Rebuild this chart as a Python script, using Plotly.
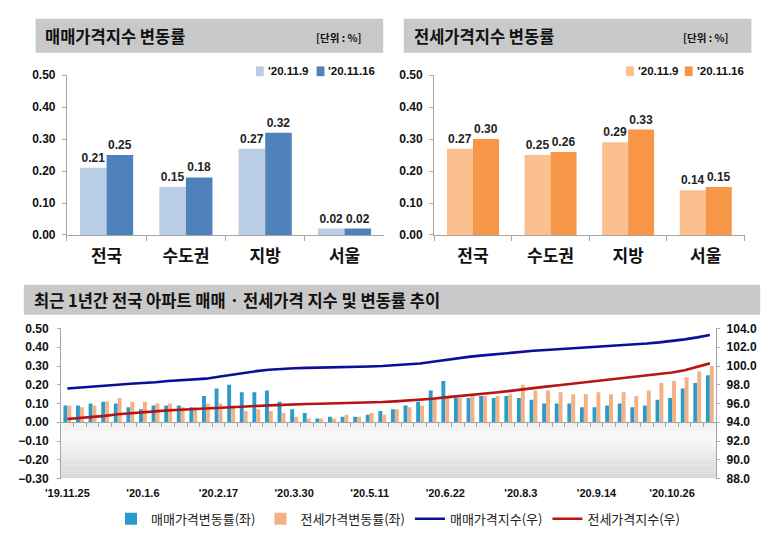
import plotly.graph_objects as go

# ---------------- data ----------------
regions = ["전국", "수도권", "지방", "서울"]
periods = ["'20.11.9", "'20.11.16"]
sale_prev = [0.21, 0.15, 0.27, 0.02]
sale_curr = [0.25, 0.18, 0.32, 0.02]
jeonse_prev = [0.27, 0.25, 0.29, 0.14]
jeonse_curr = [0.30, 0.26, 0.33, 0.15]

week_tick_pos = [0, 6, 12, 18, 24, 30, 36, 42, 48]
week_tick_text = ["'19.11.25", "'20.1.6", "'20.2.17", "'20.3.30", "'20.5.11",
                  "'20.6.22", "'20.8.3", "'20.9.14", "'20.10.26"]

sale_rate = [0.09, 0.09, 0.10, 0.11, 0.10, 0.08, 0.07, 0.09, 0.09, 0.09,
             0.08, 0.14, 0.18, 0.20, 0.16, 0.16, 0.17, 0.11, 0.07, 0.05,
             0.02, 0.03, 0.03, 0.03, 0.04, 0.06, 0.07, 0.09, 0.11, 0.17,
             0.22, 0.13, 0.13, 0.14, 0.13, 0.14, 0.13, 0.12, 0.10, 0.10,
             0.10, 0.08, 0.08, 0.09, 0.10, 0.08, 0.09, 0.12, 0.13, 0.18,
             0.21, 0.25]
jeonse_rate = [0.09, 0.08, 0.09, 0.11, 0.13, 0.11, 0.11, 0.10, 0.10, 0.08,
               0.08, 0.10, 0.10, 0.09, 0.06, 0.07, 0.06, 0.05, 0.03, 0.02,
               0.02, 0.02, 0.04, 0.03, 0.05, 0.04, 0.07, 0.08, 0.09, 0.12,
               0.13, 0.13, 0.14, 0.14, 0.14, 0.15, 0.20, 0.17, 0.17, 0.16,
               0.15, 0.15, 0.16, 0.15, 0.16, 0.14, 0.17, 0.21, 0.22, 0.24,
               0.27, 0.30]
sale_index = [97.60, 97.68, 97.76, 97.85, 98.00, 98.10, 98.17, 98.27, 98.40, 98.48,
              98.55, 98.65, 98.85, 99.07, 99.25, 99.45, 99.60, 99.70, 99.76, 99.80,
              99.82, 99.85, 99.88, 99.91, 99.95, 100.00, 100.08, 100.17, 100.27, 100.45,
              100.65, 100.84, 101.00, 101.13, 101.27, 101.40, 101.52, 101.62, 101.70, 101.78,
              101.86, 101.94, 102.02, 102.10, 102.18, 102.29, 102.40, 102.52, 102.66, 102.84,
              103.05, 103.30]
jeonse_index = [94.35, 94.45, 94.55, 94.68, 94.85, 94.97, 95.08, 95.18, 95.27, 95.34,
                95.42, 95.50, 95.58, 95.64, 95.70, 95.74, 95.80, 95.87, 95.92, 95.95,
                95.98, 96.00, 96.03, 96.06, 96.10, 96.16, 96.23, 96.30, 96.38, 96.50,
                96.65, 96.80, 96.93, 97.05, 97.18, 97.32, 97.50, 97.66, 97.80, 97.95,
                98.10, 98.25, 98.40, 98.53, 98.66, 98.80, 98.93, 99.10, 99.30, 99.55,
                99.90, 100.28]
weeks = list(range(len(sale_rate)))

# ---------------- helpers ----------------
W, H = 770, 543
def px(x):
    return x / W
def py(y):
    return 1 - y / H

FONT = "Liberation Sans, Noto Sans CJK KR, sans-serif"
KFONT = "Noto Sans CJK KR, sans-serif"
AXC = "#a6a6a6"

SALE_C = ("#b9cde5", "#4f81bd")
JEONSE_C = ("#fac090", "#f79646")

fig = go.Figure()

# ---------------- top bar charts ----------------
bw = 0.335
def top_bars(prev, curr, cols, xa, ya):
    for vals, name, col, off in [(prev, periods[0], cols[0], -bw), (curr, periods[1], cols[1], 0)]:
        fig.add_trace(go.Bar(x=regions, y=vals, name=name, marker_color=col,
                             width=bw, offset=off, xaxis=xa, yaxis=ya, showlegend=False,
                             text=[f"{v:.2f}" for v in vals], textposition="outside",
                             textfont=dict(family=FONT, size=12, color="#222", weight="bold"),
                             cliponaxis=False, marker_line_width=0))

top_bars(sale_prev, sale_curr, SALE_C, "x", "y")
top_bars(jeonse_prev, jeonse_curr, JEONSE_C, "x2", "y2")

# ---------------- bottom combo chart ----------------
bb = 0.31
fig.add_trace(go.Bar(x=weeks, y=sale_rate, name="매매가격변동률(좌)", marker_color="#2a9bcb",
                     width=bb, offset=-bb, xaxis="x3", yaxis="y3", legend="legend",
                     marker_line_width=0))
fig.add_trace(go.Bar(x=weeks, y=jeonse_rate, name="전세가격변동률(좌)", marker_color="#f4b183",
                     width=bb, offset=0, xaxis="x3", yaxis="y3", legend="legend",
                     marker_line_width=0))
fig.add_trace(go.Scatter(x=weeks, y=sale_index, name="매매가격지수(우)", mode="lines",
                         line=dict(color="#0d0d9c", width=2.6), xaxis="x3", yaxis="y4",
                         legend="legend"))
fig.add_trace(go.Scatter(x=weeks, y=jeonse_index, name="전세가격지수(우)", mode="lines",
                         line=dict(color="#b81414", width=2.6), xaxis="x3", yaxis="y4",
                         legend="legend"))
# carrier for the zero-line category axis
fig.add_trace(go.Scatter(x=[None], y=[None], xaxis="x4", yaxis="y3", showlegend=False,
                         hoverinfo="skip"))

# ---------------- shapes ----------------
shapes = []
for (x0, x1, y0, y1) in [(20, 375, 12, 47), (396, 751, 12, 47), (8, 760, 285, 316)]:
    shapes.append(dict(type="rect", xref="paper", yref="paper", x0=px(x0), x1=px(x1),
                       y0=py(y1), y1=py(y0), fillcolor="#c9c9c9", line_width=0, layer="below"))
n = 24
for i in range(n):
    t = (i + 0.5) / n
    if t < 0.25:
        v = 238 + (250 - 238) * (t / 0.25)
    else:
        v = 250 - (250 - 214) * ((t - 0.25) / 0.75)
    v = int(round(v))
    shapes.append(dict(type="rect", xref="x3", yref="y3", x0=-0.5, x1=51.5,
                       y0=-0.3 * i / n, y1=-0.3 * (i + 1) / n,
                       fillcolor=f"rgb({v},{v},{v})", line_width=0, layer="below"))
shapes.append(dict(type="rect", xref="x3", yref="y3", x0=51.5, x1=51.75, y0=-0.3, y1=0.5,
                   fillcolor="#d0d0d0", line_width=0, layer="below"))

annotations = [
    dict(text="매매가격지수 변동률", x=px(28), y=py(30), xref="paper", yref="paper",
         xanchor="left", yanchor="middle", showarrow=False,
         font=dict(family=KFONT, size=16.5, color="#111", weight="bold")),
    dict(text="[단위 : %]", x=px(304), y=py(31), xref="paper", yref="paper",
         xanchor="left", yanchor="middle", showarrow=False,
         font=dict(family=KFONT, size=10.5, color="#111", weight="bold")),
    dict(text="전세가격지수 변동률", x=px(404), y=py(30), xref="paper", yref="paper",
         xanchor="left", yanchor="middle", showarrow=False,
         font=dict(family=KFONT, size=16.5, color="#111", weight="bold")),
    dict(text="[단위 : %]", x=px(679), y=py(31), xref="paper", yref="paper",
         xanchor="left", yanchor="middle", showarrow=False,
         font=dict(family=KFONT, size=10.5, color="#111", weight="bold")),
    dict(text="최근 1년간 전국 아파트 매매 · 전세가격 지수 및 변동률 추이", x=px(16), y=py(301),
         xref="paper", yref="paper", xanchor="left", yanchor="middle", showarrow=False,
         font=dict(family=KFONT, size=16.5, color="#111", weight="bold")),
]

# manual legends for the two top charts
for cols, (s1, s2) in [(SALE_C, (245, 307)), (JEONSE_C, (623, 683))]:
    for col, sx, name in [(cols[0], s1, periods[0]), (cols[1], s2, periods[1])]:
        shapes.append(dict(type="rect", xref="paper", yref="paper", x0=px(sx), x1=px(sx + 8),
                           y0=py(71), y1=py(61), fillcolor=col, line_width=0))
        annotations.append(dict(text=name, x=px(sx + 10), y=py(66), xref="paper", yref="paper",
                                xanchor="left", yanchor="middle", showarrow=False,
                                font=dict(family=FONT, size=11.5, color="#111", weight="bold")))

tickfont_small = dict(family=FONT, size=12, color="#111", weight="bold")
catfont = dict(family=KFONT, size=17, color="#111", weight="bold")

top_y = dict(range=[0, 0.5], dtick=0.1, tickformat=".2f", showgrid=False, zeroline=False,
             showline=True, linecolor=AXC, ticks="outside", ticklen=4, tickcolor=AXC,
             tickfont=tickfont_small, ticklabelstandoff=4, domain=[py(234), py(70)])
top_x = dict(type="category", showgrid=False, showline=True, linecolor=AXC, ticks="outside",
             tickson="boundaries", ticklen=5, tickcolor=AXC, tickfont=catfont,
             ticklabelstandoff=6, range=[-0.5, 3.5])

fig.update_layout(
    width=W, height=H, margin=dict(l=0, r=0, t=0, b=0),
    paper_bgcolor="white", plot_bgcolor="rgba(0,0,0,0)",
    font=dict(family=FONT, color="#111"),
    barmode="overlay",
    xaxis=dict(top_x, domain=[px(52), px(376)], anchor="y"),
    yaxis=dict(top_y, anchor="x"),
    xaxis2=dict(top_x, domain=[px(427), px(744)], anchor="y2"),
    yaxis2=dict(top_y, anchor="x2"),
    xaxis3=dict(domain=[px(46), px(715)], anchor="y3", range=[-0.5, 51.5],
                tickvals=week_tick_pos, ticktext=week_tick_text, ticks="",
                showline=False, showgrid=False, zeroline=False,
                tickfont=dict(family=FONT, size=11, color="#111", weight="bold"),
                ticklabelstandoff=6),
    xaxis4=dict(overlaying="x3", anchor="free", position=py(426), range=[-0.5, 51.5],
                tickvals=[k - 0.5 for k in range(1, 52)], showticklabels=False,
                ticks="outside", ticklen=4, tickcolor=AXC, showline=True, linecolor=AXC,
                showgrid=False, zeroline=False),
    yaxis3=dict(domain=[py(484), py(330)], anchor="x3", range=[-0.3, 0.5], dtick=0.1,
                tickformat=".2f", showgrid=False, zeroline=False, showline=True,
                linecolor=AXC, ticks="outside", ticklen=3, tickcolor=AXC,
                tickfont=tickfont_small, ticklabelstandoff=6),
    yaxis4=dict(overlaying="y3", anchor="x3", side="right", range=[88, 104], dtick=2,
                tickformat=".1f", showgrid=False, zeroline=False, showline=True,
                linecolor=AXC, ticks="outside", ticklen=3, tickcolor=AXC,
                tickfont=dict(family=FONT, size=12, color="#111", weight="bold"),
                ticklabelstandoff=4),
    legend=dict(x=px(97), y=py(510), xanchor="left", yanchor="top", orientation="h",
                font=dict(family=KFONT, size=13, color="#222"),
                itemwidth=30, bgcolor="rgba(0,0,0,0)", traceorder="normal"),
    shapes=shapes,
    annotations=annotations,
)

fig.write_html("out.html")
